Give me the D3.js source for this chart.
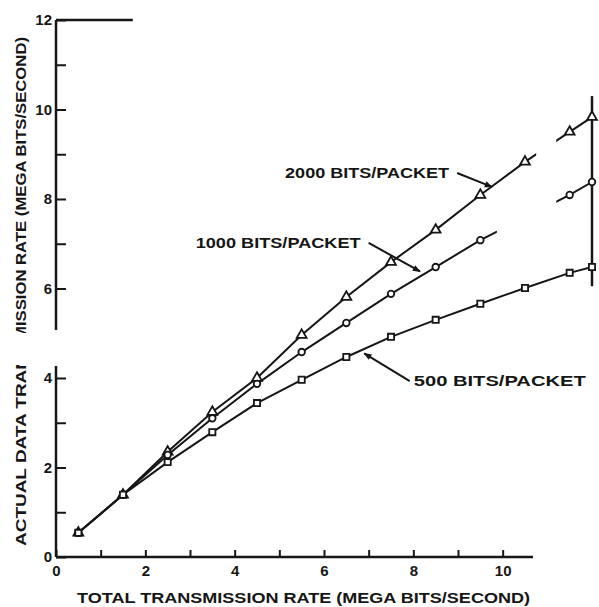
<!DOCTYPE html>
<html>
<head>
<meta charset="utf-8">
<script src="https://cdn.jsdelivr.net/npm/d3@7"></script>
<style>
  html, body { margin: 0; padding: 0; background: #fff; }
  svg { display: block; }
</style>
</head>
<body>
<svg id="chart" width="599" height="607"></svg>
<script>
// Total transmission rate (Mbit/s) at which each curve was measured
const totalRate = [0.5, 1.5, 2.5, 3.5, 4.5, 5.5, 6.5, 7.5, 8.5, 9.5, 10.5, 11.5, 12];
// Actual data transmission rate (Mbit/s) per packet size; null = not measured
const rate2000 = [0.54, 1.39, 2.35, 3.24, 4.00, 4.96, 5.81, 6.59, 7.31, 8.09, 8.83, 9.50, 9.83];
const rate1000 = [0.54, 1.39, 2.28, 3.10, 3.87, 4.58, 5.23, 5.88, 6.48, 7.08, null, 8.09, 8.38];
const rate500  = [0.54, 1.39, 2.12, 2.79, 3.44, 3.96, 4.47, 4.92, 5.30, 5.66, 6.01, 6.35, 6.48];

const seriesNames = ["2000 BITS/PACKET", "1000 BITS/PACKET", "500 BITS/PACKET"];
const xTicks = [0, 1, 2, 3, 4, 5, 6, 7, 8, 9, 10];
const yLowerTicks = [0, 1, 2, 3, 4];
const yUpperTicks = [6, 7, 8, 9, 10, 11, 12];
const xTitle = "TOTAL TRANSMISSION RATE (MEGA BITS/SECOND)";
const yTitleParts = ["ACTUAL DATA TRAN", "MISSION RATE (MEGA BITS/SECOND)"];

const ink = "#161616";
const font = "'Liberation Sans', Arial, sans-serif";

const svg = d3.select("#chart");
const x = d3.scaleLinear().domain([0, 12]).range([56, 592]);
const y = d3.scaleLinear().domain([0, 12]).range([557, 20]);

const defs = svg.append("defs");
defs.append("marker")
  .attr("id", "arrow")
  .attr("viewBox", "0 0 10 10")
  .attr("refX", 9).attr("refY", 5)
  .attr("markerWidth", 11).attr("markerHeight", 8)
  .attr("markerUnits", "userSpaceOnUse")
  .attr("orient", "auto")
  .append("path").attr("d", "M0,1L10,5L0,9Z").attr("fill", ink);

// ---- axes ----
function styleAxis(g, size) {
  g.select(".domain").remove();
  g.selectAll(".tick line").attr("stroke", ink).attr("stroke-width", 2);
  g.selectAll(".tick text")
    .attr("fill", ink)
    .attr("font-family", font)
    .attr("font-weight", "bold")
    .attr("font-size", size);
}
const evenOnly = d => (d % 2 === 0 ? d : "");

const gx = svg.append("g")
  .attr("transform", `translate(0,${y(0)})`)
  .call(d3.axisBottom(x).tickValues(xTicks).tickSize(-7).tickPadding(8).tickFormat(evenOnly));
styleAxis(gx, 15);
gx.append("line")
  .attr("x1", x(0)).attr("x2", x(10.68)).attr("y1", 0).attr("y2", 0)
  .attr("stroke", ink).attr("stroke-width", 2.5);

// broken vertical axis: lower and upper pieces
const yPieces = [
  { ticks: yLowerTicks, from: 0, to: 4.27 },
  { ticks: yUpperTicks, from: 5.07, to: 12 }
];
yPieces.forEach(p => {
  const g = svg.append("g")
    .attr("transform", `translate(${x(0)},0)`)
    .call(d3.axisLeft(y).tickValues(p.ticks).tickSize(-10).tickPadding(4).tickFormat(evenOnly));
  styleAxis(g, 15);
  g.append("line")
    .attr("x1", 0).attr("x2", 0).attr("y1", y(p.from)).attr("y2", y(p.to))
    .attr("stroke", ink).attr("stroke-width", 2.5);
});

// frame edges
svg.append("line")
  .attr("x1", x(0)).attr("x2", x(1.72)).attr("y1", y(12)).attr("y2", y(12))
  .attr("stroke", ink).attr("stroke-width", 2.5);
svg.append("line")
  .attr("x1", x(12)).attr("x2", x(12)).attr("y1", y(6.05)).attr("y2", y(10.3))
  .attr("stroke", ink).attr("stroke-width", 2.5);

// ---- series ----
const series = [
  { name: seriesNames[0], values: rate2000, symbol: d3.symbolTriangle, size: 42, gap: [10.75, 11.2] },
  { name: seriesNames[1], values: rate1000, symbol: d3.symbolCircle, size: 34, gap: [9.87, 11.2] },
  { name: seriesNames[2], values: rate500, symbol: d3.symbolSquare, size: 38, gap: null }
];

const line = d3.line().x(d => x(d.x)).y(d => y(d.y));

series.forEach((s, i) => {
  s.points = totalRate.map((t, k) => ({ x: t, y: s.values[k] })).filter(d => d.y != null);
  const pieces = s.gap ? [[0, s.gap[0]], [s.gap[1], 12.5]] : [[0, 12.5]];
  pieces.forEach((r, j) => {
    const id = `clip-${i}-${j}`;
    defs.append("clipPath").attr("id", id)
      .append("rect")
      .attr("x", x(r[0])).attr("width", x(r[1]) - x(r[0]))
      .attr("y", 0).attr("height", 607);
    svg.append("path")
      .datum(s.points)
      .attr("clip-path", `url(#${id})`)
      .attr("d", line)
      .attr("fill", "none")
      .attr("stroke", ink)
      .attr("stroke-width", 2);
  });
});

series.forEach(s => {
  svg.append("g").selectAll("path")
    .data(s.points)
    .join("path")
    .attr("transform", d => `translate(${x(d.x)},${y(d.y)})`)
    .attr("d", d3.symbol().type(s.symbol).size(s.size))
    .attr("fill", "#fff")
    .attr("stroke", ink)
    .attr("stroke-width", 1.8);
});

// ---- curve labels with pointers ----
const callouts = [
  { name: seriesNames[0], from: [8.98, 8.58], to: [9.76, 8.27], anchor: "end", len: 164 },
  { name: seriesNames[1], from: [7.0, 7.02], to: [8.15, 6.38], anchor: "end", len: 165 },
  { name: seriesNames[2], from: [7.92, 3.93], to: [6.9, 4.55], anchor: "start", len: 172 }
];
callouts.forEach(c => {
  svg.append("line")
    .attr("x1", x(c.from[0])).attr("y1", y(c.from[1]))
    .attr("x2", x(c.to[0])).attr("y2", y(c.to[1]))
    .attr("stroke", ink).attr("stroke-width", 2)
    .attr("marker-end", "url(#arrow)");
  svg.append("text")
    .attr("x", x(c.from[0]) + (c.anchor === "end" ? -8 : 4))
    .attr("y", y(c.from[1]) + 5)
    .attr("text-anchor", c.anchor)
    .attr("textLength", c.len)
    .attr("lengthAdjust", "spacingAndGlyphs")
    .attr("font-family", font).attr("font-weight", "bold").attr("font-size", 14)
    .attr("fill", ink)
    .text(c.name);
});

// ---- axis titles ----
svg.append("text")
  .attr("x", 303.5).attr("y", 603)
  .attr("text-anchor", "middle")
  .attr("textLength", 453).attr("lengthAdjust", "spacingAndGlyphs")
  .attr("font-family", font).attr("font-weight", "bold").attr("font-size", 15)
  .attr("fill", ink)
  .text(xTitle);

defs.append("clipPath").attr("id", "ytitle-low")
  .append("rect").attr("x", 0).attr("width", 50).attr("y", 365).attr("height", 242);
defs.append("clipPath").attr("id", "ytitle-high")
  .append("rect").attr("x", 0).attr("width", 50).attr("y", 0).attr("height", 333);

svg.append("g").attr("clip-path", "url(#ytitle-low)")
  .append("text")
  .attr("transform", "translate(21,546) rotate(-90)")
  .attr("dy", "0.35em")
  .attr("text-anchor", "start")
  .attr("textLength", 190).attr("lengthAdjust", "spacingAndGlyphs")
  .attr("font-family", font).attr("font-weight", "bold").attr("font-size", 15)
  .attr("fill", ink)
  .text(yTitleParts[0]);

svg.append("g").attr("clip-path", "url(#ytitle-high)")
  .append("text")
  .attr("transform", "translate(21,37) rotate(-90)")
  .attr("dy", "0.35em")
  .attr("text-anchor", "end")
  .attr("textLength", 303).attr("lengthAdjust", "spacingAndGlyphs")
  .attr("font-family", font).attr("font-weight", "bold").attr("font-size", 15)
  .attr("fill", ink)
  .text(yTitleParts[1]);
</script>
</body>
</html>
